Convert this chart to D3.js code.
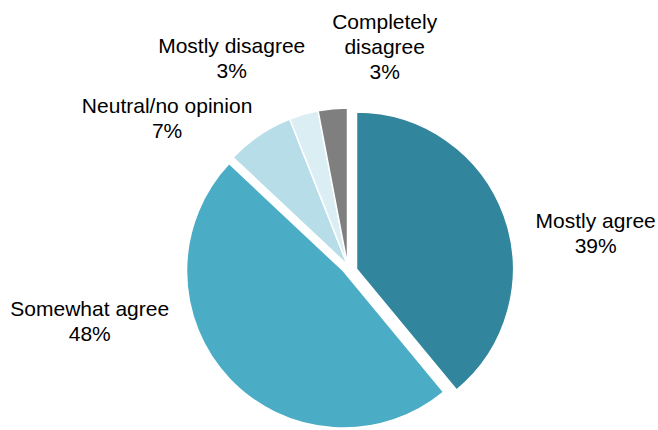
<!DOCTYPE html>
<html>
<head>
<meta charset="utf-8">
<script src="https://cdn.jsdelivr.net/npm/d3@7/dist/d3.min.js"></script>
<style>
  html, body { margin: 0; padding: 0; background: #ffffff; }
  svg { display: block; }
  text { font-family: "Liberation Sans", Arial, sans-serif; fill: #000; }
</style>
</head>
<body>
<svg id="chart" width="658" height="430"></svg>
<script>
// ---- data ----
const categories = ["Mostly agree", "Somewhat agree", "Neutral/no opinion", "Mostly disagree", "Completely disagree"];
const labelLines = [["Mostly agree"], ["Somewhat agree"], ["Neutral/no opinion"], ["Mostly disagree"], ["Completely", "disagree"]];
const values = [39, 48, 7, 3, 3];

// ---- style ----
const colors = ["#31859C", "#4BACC6", "#B7DEE8", "#DAEEF3", "#7F7F7F"];
const explode = [[9, 4], [-4, 6], [0, 0], [0, 0], [0, 0]];
const labelNudge = [[60, 36], [-112, -81], [-68, 18], [-60, -15], [56, -19]];
const W = 658, H = 430;
const cx = 347.5, cy = 265, R = 157;
const fontSize = 21, lineH = 25;

const svg = d3.select("#chart");
const g = svg.append("g").attr("transform", `translate(${cx},${cy})`);

const data = categories.map((c, i) => ({ cat: c, value: values[i], i }));
const pie = d3.pie().sort(null).startAngle(0).endAngle(2 * Math.PI).value(d => d.value);
const arcs = pie(data);
const arc = d3.arc().innerRadius(0).outerRadius(R);
const labelArc = d3.arc().innerRadius(200).outerRadius(200);

g.selectAll("path.slice")
  .data(arcs)
  .join("path")
  .attr("class", "slice")
  .attr("d", arc)
  .attr("transform", d => `translate(${explode[d.data.i][0]},${explode[d.data.i][1]})`)
  .attr("fill", d => colors[d.data.i])
  .attr("stroke", "#ffffff")
  .attr("stroke-width", 1.5)
  .attr("stroke-linejoin", "round");

const labels = g.selectAll("text.lbl")
  .data(arcs)
  .join("text")
  .attr("class", "lbl")
  .attr("text-anchor", "middle")
  .style("font-size", fontSize + "px")
  .each(function(d) {
    const i = d.data.i;
    const [px, py] = labelArc.centroid(d);
    const x = px + labelNudge[i][0];
    const yc = py + labelNudge[i][1];
    const lines = labelLines[i].concat([d3.format(".0f")(d.data.value) + "%"]);
    const y0 = yc - (lines.length - 1) * lineH / 2 + fontSize * 0.36;
    const t = d3.select(this);
    lines.forEach((ln, k) => {
      t.append("tspan").attr("x", x).attr("y", y0 + k * lineH).text(ln);
    });
  });
</script>
</body>
</html>
